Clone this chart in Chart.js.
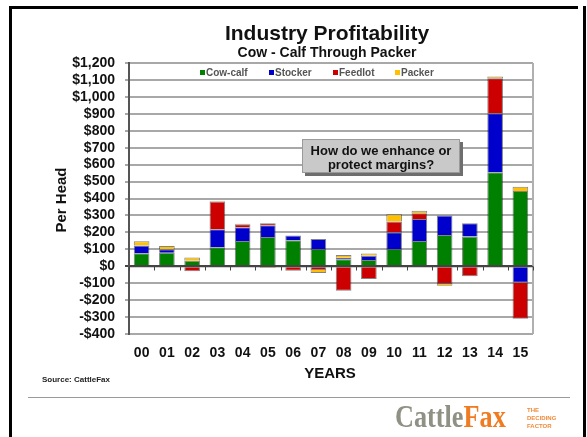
<!DOCTYPE html>
<html>
<head>
<meta charset="utf-8">
<script src="https://cdn.jsdelivr.net/npm/chart.js@4/dist/chart.umd.min.js"></script>
<style>
  html, body { margin: 0; padding: 0; background: #fff; overflow: hidden; }
  #wrap { width: 587px; height: 437px; position: relative; }
</style>
</head>
<body>
<div id="wrap"><canvas id="c" width="587" height="437"></canvas></div>
<script>
// Profit per head by industry segment, 2000-2015
const years   = ['00','01','02','03','04','05','06','07','08','09','10','11','12','13','14','15'];
const cowCalf = [77, 80, 33, 112, 149, 173, 153, 102, 42, 37, 102, 149, 185, 175, 555, 445];
const stocker = [45, 20, 0, 107, 81, 69, 28, 59, 8, 25, 99, 130, 114, 79, 349, -97];
const feedlot = [0, -5, -30, 163, 18, 12, -26, -22, -144, -75, 63, 34, -105, -59, 206, -213];
const packer  = [26, 20, 18, 4, 3, -10, 0, -18, 17, 14, 43, 14, -10, 0, 10, 25];

const seriesNames  = ['Cow-calf', 'Stocker', 'Feedlot', 'Packer'];
const seriesColors = ['#008000', '#0000cc', '#cc0000', '#ffc000'];
const yTicks = { min: -400, max: 1200, step: 100 };

const FONT = '"Liberation Sans", Arial, sans-serif';

function money(v) {
  const s = Math.abs(v).toLocaleString('en-US');
  return (v < 0 ? '-$' : '$') + s;
}

const decor = {
  id: 'decor',
  beforeDraw(chart) {
    const ctx = chart.ctx;
    ctx.save();
    ctx.fillStyle = '#ffffff';
    ctx.fillRect(0, 0, chart.width, chart.height);
    ctx.restore();
  },
  afterDraw(chart) {
    const ctx = chart.ctx;
    const area = chart.chartArea;
    const ys = chart.scales.y;
    ctx.save();

    // slide frame
    ctx.fillStyle = '#000';
    ctx.fillRect(9, 6, 578 - 9, 3);
    ctx.fillRect(9, 6, 3, 437 - 6);
    ctx.fillRect(583, 6, 3, 437 - 6);

    // plot box right edge
    ctx.strokeStyle = '#b0b0b0';
    ctx.lineWidth = 2;
    ctx.beginPath();
    ctx.moveTo(area.right, area.top);
    ctx.lineTo(area.right, area.bottom);
    ctx.stroke();

    // zero axis with category tick marks
    const y0 = Math.round(ys.getPixelForValue(0)) + 0.5;
    ctx.strokeStyle = '#444';
    ctx.lineWidth = 1.5;
    ctx.beginPath();
    ctx.moveTo(area.left, y0);
    ctx.lineTo(area.right, y0);
    ctx.stroke();
    ctx.lineWidth = 1;
    const n = years.length;
    for (let i = 0; i <= n; i++) {
      const x = Math.round(area.left + i * (area.right - area.left) / n) + 0.5;
      ctx.beginPath();
      ctx.moveTo(x, y0);
      ctx.lineTo(x, y0 + 4);
      ctx.stroke();
    }

    // titles
    ctx.fillStyle = '#111';
    ctx.textAlign = 'center';
    ctx.textBaseline = 'alphabetic';
    ctx.font = 'bold 21px ' + FONT;
    ctx.fillText('Industry Profitability', 327, 40);
    ctx.font = 'bold 14px ' + FONT;
    ctx.fillText('Cow - Calf Through Packer', 327, 57);

    // axis titles
    ctx.font = 'bold 15px ' + FONT;
    ctx.textBaseline = 'middle';
    ctx.fillText('YEARS', 330, 374);
    ctx.save();
    ctx.translate(62, 200);
    ctx.rotate(-Math.PI / 2);
    ctx.fillText('Per Head', 0, 0);
    ctx.restore();

    // source note
    ctx.font = 'bold 8px ' + FONT;
    ctx.textAlign = 'left';
    ctx.fillStyle = '#222';
    ctx.fillText('Source: CattleFax', 42, 380);

    // legend inside the plot
    const legendX = [200, 269, 333, 395];
    ctx.font = 'bold 10px ' + FONT;
    for (let i = 0; i < 4; i++) {
      ctx.fillStyle = seriesColors[i];
      ctx.fillRect(legendX[i], 70, 5, 5);
      ctx.fillStyle = '#555';
      ctx.fillText(seriesNames[i], legendX[i] + 6, 73);
    }

    // callout box
    const bx = 302, by = 139, bw = 158, bh = 34;
    ctx.fillStyle = '#6e6e6e';
    ctx.fillRect(bx + 3, by + 3, bw, bh);
    ctx.fillStyle = '#c9c9c9';
    ctx.fillRect(bx, by, bw, bh);
    ctx.strokeStyle = '#9a9a9a';
    ctx.lineWidth = 1;
    ctx.strokeRect(bx + 0.5, by + 0.5, bw - 1, bh - 1);
    ctx.fillStyle = '#111';
    ctx.textAlign = 'center';
    ctx.font = 'bold 13px ' + FONT;
    ctx.fillText('How do we enhance or', bx + bw / 2, 151);
    ctx.fillText('protect margins?', bx + bw / 2, 165);

    // footer rule
    ctx.strokeStyle = '#9a9a9a';
    ctx.lineWidth = 1;
    ctx.beginPath();
    ctx.moveTo(28, 397.5);
    ctx.lineTo(570, 397.5);
    ctx.stroke();

    // logo
    ctx.save();
    ctx.translate(395, 427);
    ctx.scale(0.82, 1);
    ctx.textAlign = 'left';
    ctx.textBaseline = 'alphabetic';
    ctx.font = 'bold 32px "Liberation Serif", "DejaVu Serif", serif';
    ctx.fillStyle = '#8e9183';
    ctx.fillText('Cattle', 0, 0);
    const w = ctx.measureText('Cattle').width;
    ctx.fillStyle = '#f07c22';
    ctx.fillText('Fax', w, 0);
    ctx.restore();
    ctx.fillStyle = '#f08a3a';
    ctx.font = 'bold 6px ' + FONT;
    ctx.textAlign = 'left';
    ctx.fillText('THE', 527, 410);
    ctx.fillText('DECIDING', 527, 418);
    ctx.fillText('FACTOR', 527, 426);

    ctx.restore();
  }
};

const datasets = seriesNames.map((name, i) => ({
  label: name,
  data: [cowCalf, stocker, feedlot, packer][i],
  backgroundColor: seriesColors[i],
  borderColor: 'rgba(30,30,30,0.55)',
  borderWidth: 1,
  barPercentage: 0.62,
  categoryPercentage: 1.0
}));

new Chart(document.getElementById('c'), {
  type: 'bar',
  data: { labels: years, datasets },
  options: {
    responsive: false,
    devicePixelRatio: 1,
    animation: false,
    layout: { padding: { left: 0, top: 63, right: 54, bottom: 73 } },
    plugins: { legend: { display: false }, tooltip: { enabled: false } },
    scales: {
      x: {
        stacked: true,
        grid: { display: false, drawTicks: false },
        border: { display: false },
        ticks: { color: '#111', font: { family: FONT, size: 14, weight: 'bold' }, padding: 11, maxRotation: 0, autoSkip: false },
        afterFit(scale) { scale.height = 30; }
      },
      y: {
        stacked: true,
        min: yTicks.min,
        max: yTicks.max,
        grid: {
          color: ctx => (ctx.tick && ctx.tick.value === 0) ? '#444' : '#a8a8a8',
          lineWidth: 2,
          tickLength: 4,
          drawTicks: true
        },
        border: { display: true, color: '#555', width: 2 },
        ticks: {
          stepSize: yTicks.step,
          autoSkip: false,
          color: '#111',
          font: { family: FONT, size: 14, weight: 'bold' },
          padding: 10,
          callback: v => money(v)
        },
        afterFit(scale) { scale.width = 129; }
      }
    }
  },
  plugins: [decor]
});
</script>
</body>
</html>
